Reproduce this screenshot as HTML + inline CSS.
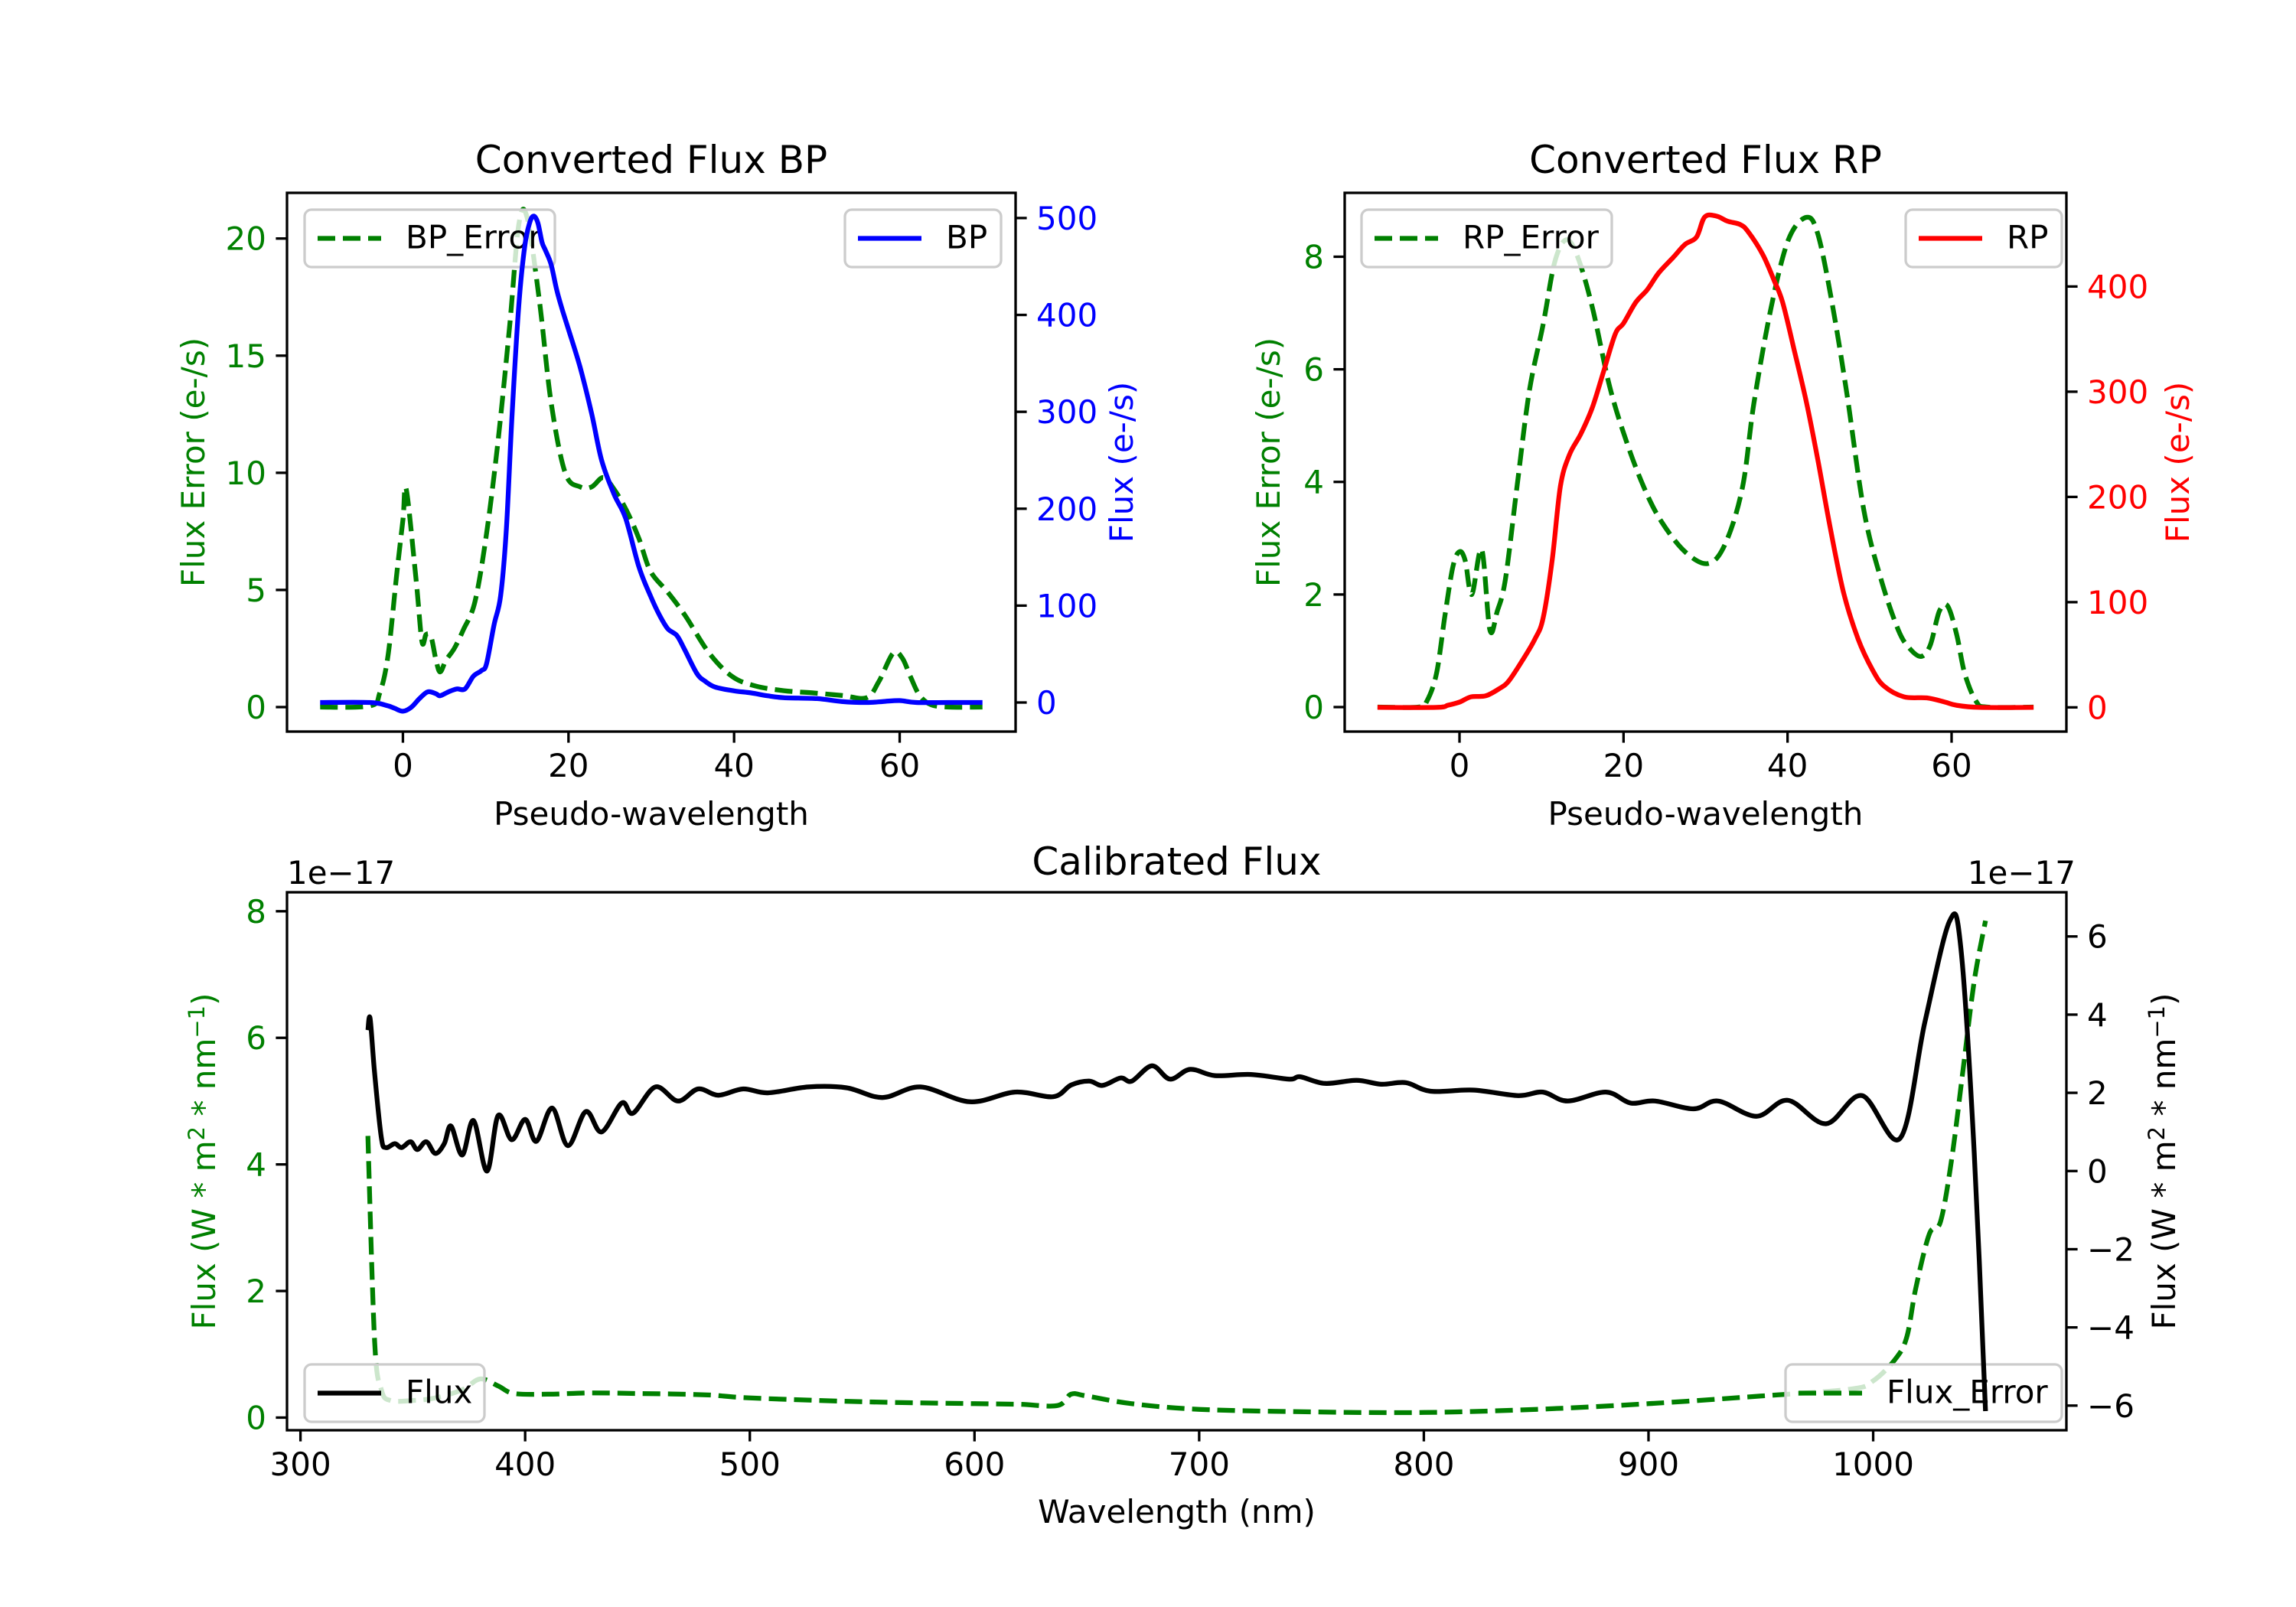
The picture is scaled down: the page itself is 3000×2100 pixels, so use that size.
<!DOCTYPE html>
<html><head><meta charset="utf-8"><style>
html,body{margin:0;padding:0;background:#fff}
svg{display:block;font-family:"DejaVu Sans","Liberation Sans",sans-serif}
</style></head><body>
<svg id="fig" width="3000" height="2100" viewBox="0 0 3000 2100" xmlns="http://www.w3.org/2000/svg"></svg>
<script>
// ---- BP data ----
const bpErrX=[-10,-4,-2.8,-1.8,-0.8,0,0.4,1.6,2.3,2.8,3.4,4,4.5,5.2,6.2,7.3,8.7,10.1,11.5,12.9,14,15,16.5,17.9,19.6,21.4,22.8,24.2,25.5,27,28.5,29.9,32,34.1,37,39.8,42.6,46,49.7,53,56,57.5,59.2,60.3,61.3,62.4,63.8,66,70];
const bpErrY=[0,0.05,0.6,2.2,5.5,8,9.3,5.4,2.8,3.1,3.0,2.0,1.5,2.0,2.5,3.3,4.5,7.4,11.4,16.3,20.6,20.9,17.3,13,10,9.4,9.4,9.8,9.3,8.4,7.2,5.8,4.9,3.9,2.3,1.3,0.9,0.7,0.6,0.5,0.4,1.1,2.3,2.1,1.3,0.5,0.1,0,0];
const bpX=[-10,-4,-2,-1,0,1,2,3,4,4.5,5.5,6.5,7.5,8.5,9.5,10.1,11,11.8,12.5,13.2,14,14.7,15.3,15.8,16.3,16.8,17.2,17.9,18.6,19.3,20,21.4,22.8,24,25.5,26.9,28.5,29.9,31,32,33.1,34,35.5,36.5,37.7,40,42,44,46,50,53,56,58,60,62,66,70];
const bpY=[0,0,-3,-6,-9,-5,4,11,9,7,11,14,14,27,33,40,80,110,180,300,410,470,495,502,495,475,467,452,425,404,385,346,298,250,215,190,140,110,90,76,69,55,30,22,16,12,10,7,5,4,1,0,1,2,0,0,0];
// ---- RP data ----
const rpErrX=[-10,-5,-4,-2.8,-1.8,-0.8,0,0.7,1.5,2.7,3.7,4.6,5.6,7,8.5,10.2,11.6,13,14.4,16.2,18.3,20.4,22.5,24.6,27.5,30.3,32.4,34.5,35.9,38,40.1,42.3,43.7,45.4,47.2,49.3,51.4,53.5,54.9,56.3,57.4,58.5,59.5,60.6,61.6,63,64.4,70];
const rpErrY=[0,0,0.1,0.6,1.6,2.5,2.76,2.6,2.0,2.8,1.37,1.7,2.27,3.9,5.6,6.8,7.9,8.3,8.0,7.1,5.7,4.7,3.9,3.3,2.76,2.55,2.9,3.9,5.4,7.1,8.3,8.7,8.4,7.2,5.6,3.5,2.27,1.37,1.04,0.9,1.1,1.7,1.8,1.3,0.6,0.1,0,0];
const rpX=[-10,-2.8,-1.4,0,1.4,3.2,4.9,6,7.7,9.2,10.2,11.3,12.3,13.4,14.8,16.2,17.6,19,20,21.5,22.9,24.3,26.1,27.5,28.9,29.9,31.3,32.7,34.2,35.2,37,38.4,39.4,40.8,42.3,43.7,45.1,46.8,48.6,50.4,51.8,54.2,57,59.2,60.6,63.4,70];
const rpY=[0,0,2,5,10,11,18,25,45,65,85,140,210,240,260,285,320,355,365,385,397,413,428,440,447,466,467,462,459,452,430,405,385,340,290,235,175,110,65,35,20,10,9,5,2,0,0];
// ---- Calibrated data ----
const calX=[330,331,333,336,338,342,345,349,352,356,360,364,367,372,377,383,388,394,400,405,412,419,427,434,443,448,458,468,477,486,497,508,526,543,559,576,598,618,635,643,651,657,665,670,679,687,696,707,723,740,745,756,770,781,792,803,822,842,853,864,881,892,903,920,931,948,962,979,995,1012,1023,1034,1039,1045,1050];
const calFlux=[3.6,3.9,2.5,0.85,0.6,0.7,0.6,0.75,0.55,0.75,0.45,0.7,1.15,0.41,1.29,0.0,1.42,0.8,1.32,0.76,1.61,0.65,1.52,1.0,1.74,1.48,2.15,1.79,2.1,1.94,2.1,2.0,2.15,2.13,1.88,2.15,1.77,2.02,1.9,2.2,2.3,2.19,2.38,2.3,2.69,2.35,2.6,2.44,2.47,2.35,2.41,2.24,2.32,2.22,2.26,2.04,2.07,1.93,2.02,1.79,2.02,1.74,1.79,1.59,1.79,1.4,1.81,1.21,1.93,0.84,3.81,6.39,5.72,0.45,-6.14];
const calErrX=[330,333,336,340,350,360,372,380,388,395,410,420,430,450,480,500,550,600,620,637,643,650,670,700,750,800,850,900,950,990,1000,1010,1015,1019,1025,1030,1035,1040,1045,1050];
const calErrY=[4.45,1.2,0.44,0.27,0.27,0.31,0.44,0.61,0.5,0.38,0.37,0.38,0.39,0.38,0.36,0.31,0.25,0.22,0.21,0.19,0.37,0.34,0.22,0.13,0.09,0.08,0.13,0.22,0.34,0.45,0.58,0.93,1.28,2.05,2.9,3.1,4.1,5.5,6.9,7.85];
const bpXTicks=[0,20,40,60], bpLTicks=[0,5,10,15,20], bpRTicks=[0,100,200,300,400,500];
const rpXTicks=[0,20,40,60], rpLTicks=[0,2,4,6,8], rpRTicks=[0,100,200,300,400];
const calXTicks=[300,400,500,600,700,800,900,1000], calLTicks=[0,2,4,6,8], calRTicks=[-6,-4,-2,0,2,4,6];

const NS="http://www.w3.org/2000/svg";
const fig=document.getElementById('fig');
function mk(tag,attrs,parent){const e=document.createElementNS(NS,tag);for(const k in attrs)e.setAttribute(k,attrs[k]);(parent||fig).appendChild(e);return e;}
function txt(s,x,y,attrs,parent){const t=mk('text',Object.assign({x:x,y:y,'font-size':42},attrs),parent);t.textContent=s;return t;}
function sc(d0,d1,p0,p1){return v=>p0+(v-d0)*(p1-p0)/(d1-d0);}
function pathD(xs,ys,sx,sy){
  const P=xs.map((x,i)=>[sx(x),sy(ys[i])]);
  let d='M'+P[0][0].toFixed(1)+','+P[0][1].toFixed(1);
  for(let i=0;i<P.length-1;i++){
    const p0=P[Math.max(0,i-1)],p1=P[i],p2=P[i+1],p3=P[Math.min(P.length-1,i+2)];
    const t=0.5/3;
    const c1=[p1[0]+(p2[0]-p0[0])*t,p1[1]+(p2[1]-p0[1])*t];
    const c2=[p2[0]-(p3[0]-p1[0])*t,p2[1]-(p3[1]-p1[1])*t];
    d+='C'+c1[0].toFixed(1)+','+c1[1].toFixed(1)+' '+c2[0].toFixed(1)+','+c2[1].toFixed(1)+' '+p2[0].toFixed(1)+','+p2[1].toFixed(1);
  }
  return d;
}
function fmt(v){return v<0?'\u2212'+Math.abs(v):String(v);}
function legend(name,x0,y0,x1,y1,color,dash,label){
  const g=mk('g',{});
  
  
  mk('rect',{x:x0,y:y0,width:x1-x0,height:y1-y0,rx:9,fill:'#fff','fill-opacity':0.8,stroke:'#cccccc','stroke-width':3.3},g);
  const cy=(y0+y1)/2;
  const l=mk('line',{x1:x0+17,x2:x0+100,y1:cy,y2:cy,stroke:color,'stroke-width':6.25},g);
  if(dash)l.setAttribute('stroke-dasharray','23,10');
  txt(label,x0+132,cy+13,{},g);
}
function axesFrame(name,L,R,T,B,sx,sl,sr,xt,lt,rt,lc,rc){
  const g=mk('g',{});
  
  
  mk('rect',{x:L,y:T,width:R-L,height:B-T,fill:'none',stroke:'#000','stroke-width':3.3},g);
  xt.forEach(v=>{const x=sx(v);mk('line',{x1:x,x2:x,y1:B,y2:B+14.6,stroke:'#000','stroke-width':3.3},g);
    const t=txt(fmt(v),x,B+59,{'text-anchor':'middle'},g);
    
    });
  lt.forEach(v=>{const y=sl(v);mk('line',{x1:L-14.6,x2:L,y1:y,y2:y,stroke:'#000','stroke-width':3.3},g);
    const t=txt(fmt(v),L-27,y+15,{'text-anchor':'end',fill:lc},g);
    
    });
  rt.forEach(v=>{const y=sr(v);mk('line',{x1:R,x2:R+14.6,y1:y,y2:y,stroke:'#000','stroke-width':3.3},g);
    const t=txt(fmt(v),R+27,y+15,{'text-anchor':'start',fill:rc},g);
    
    });
}
function line(name,xs,ys,sx,sy,color,dash){
  const p=mk('path',{d:pathD(xs,ys,sx,sy),fill:'none',stroke:color,'stroke-width':6.25,'stroke-linejoin':'round'});
  if(dash)p.setAttribute('stroke-dasharray','23,10');
  
  
}
function vlabel(s,x,y,color,name){
  const t=txt(s,0,0,{'text-anchor':'middle',fill:color,transform:'translate('+x+','+y+') rotate(-90)'});
  
  
  return t;
}
function label(s,x,y,size,name,anchor){
  const t=txt(s,x,y,{'text-anchor':anchor||'middle','font-size':size});
  
  
}

// ===== BP panel =====
(function(){
  const L=375,R=1327,T=252,B=956;
  const sx=sc(-14,74,L,R), sl=sc(-1.045,21.95,B,T), sr=sc(-30,526,B,T);
  axesFrame('bp',L,R,T,B,sx,sl,sr,bpXTicks,bpLTicks,bpRTicks,'green','blue');
  line('bp-error-line',bpErrX,bpErrY,sx,sl,'green',true);
  legend('bp-error-legend',398,274,725,349,'green',true,'BP_Error');
  line('bp-flux-line',bpX,bpY,sx,sr,'blue',false);
  legend('bp-legend',1104,274,1308,349,'blue',false,'BP');
  label('Converted Flux BP',(L+R)/2,226,50,'bp-title');
  label('Pseudo-wavelength',(L+R)/2,1078,42,'bp-x-axis-title');
  vlabel('Flux Error (e-/s)',267,(T+B)/2,'green','bp-left-y-axis-title');
  vlabel('Flux (e-/s)',1480,(T+B)/2,'blue','bp-right-y-axis-title');
})();
// ===== RP panel =====
(function(){
  const L=1757,R=2700,T=252,B=956;
  const sx=sc(-14,74,L,R), sl=sc(-0.435,9.135,B,T), sr=sc(-23,489,B,T);
  axesFrame('rp',L,R,T,B,sx,sl,sr,rpXTicks,rpLTicks,rpRTicks,'green','red');
  line('rp-error-line',rpErrX,rpErrY,sx,sl,'green',true);
  legend('rp-error-legend',1779,274,2106,349,'green',true,'RP_Error');
  line('rp-flux-line',rpX,rpY,sx,sr,'red',false);
  legend('rp-legend',2490,274,2694,349,'red',false,'RP');
  label('Converted Flux RP',(L+R)/2,226,50,'rp-title');
  label('Pseudo-wavelength',(L+R)/2,1078,42,'rp-x-axis-title');
  vlabel('Flux Error (e-/s)',1672,(T+B)/2,'green','rp-left-y-axis-title');
  vlabel('Flux (e-/s)',2860,(T+B)/2,'red','rp-right-y-axis-title');
})();
// ===== Calibrated panel =====
(function(){
  const L=375,R=2700,T=1166,B=1869;
  const sx=sc(294,1086,L,R), sl=sc(-0.2,8.3,B,T), sr=sc(-6.63,7.13,B,T);
  axesFrame('cal',L,R,T,B,sx,sl,sr,calXTicks,calLTicks,calRTicks,'green','#000');
  line('flux-error-line',calErrX,calErrY,sx,sl,'green',true);
  legend('flux-error-legend',2333,1783,2694,1858,'green',true,'Flux_Error');
  line('flux-line',calX,calFlux,sx,sr,'#000',false);
  legend('flux-legend',398,1783,633,1858,'#000',false,'Flux');
  label('Calibrated Flux',(L+R)/2,1143,50,'cal-title');
  label('Wavelength (nm)',(L+R)/2,1990,42,'cal-x-axis-title');
  label('1e\u221217',L,1155,42,'left-offset-text','start');
  label('1e\u221217',R+12,1155,42,'right-offset-text','end');
  const tl=vlabel('',281,(T+B)/2,'green','cal-left-y-axis-title');
  tl.innerHTML='Flux (W * m<tspan dy="-14" font-size="29">2</tspan><tspan dy="14"> * nm</tspan><tspan dy="-14" font-size="29">\u22121</tspan><tspan dy="14">)</tspan>';
  const tr=vlabel('',2842,(T+B)/2,'#000','cal-right-y-axis-title');
  tr.innerHTML='Flux (W * m<tspan dy="-14" font-size="29">2</tspan><tspan dy="14"> * nm</tspan><tspan dy="-14" font-size="29">\u22121</tspan><tspan dy="14">)</tspan>';
})();
</script>
</body></html>
